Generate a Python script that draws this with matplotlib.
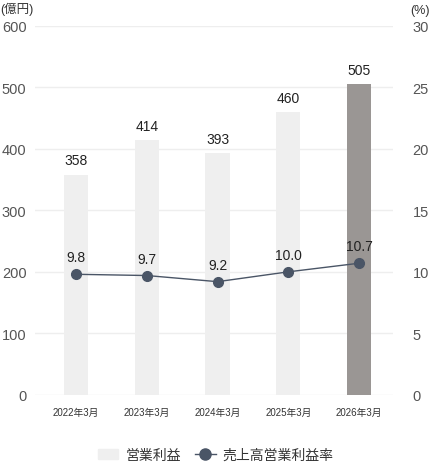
import matplotlib.pyplot as plt
import numpy as np

plt.rcParams["font.family"] = ["Liberation Sans", "Noto Sans CJK JP", "DejaVu Sans"]

years = ["2022年3月", "2023年3月", "2024年3月", "2025年3月", "2026年3月"]
profit = [358, 414, 393, 460, 505]
margin = [9.8, 9.7, 9.2, 10.0, 10.7]
left_ticks = [0, 100, 200, 300, 400, 500, 600]
right_ticks = [0, 5, 10, 15, 20, 25, 30]

TEXT = "#222222"
TICK = "#555555"
BAR = "#efefef"
BAR_LAST = "#9a9694"
LINE = "#4a5566"

fig = plt.figure(figsize=(4.31, 4.64), dpi=100)
ax = fig.add_axes([0.081, 0.147, 0.831, 0.795])
ax2 = ax.twinx()

x = np.arange(len(years))
colors = [BAR] * (len(years) - 1) + [BAR_LAST]
ax.bar(x, profit, width=0.34, color=colors, zorder=2)
for xi, v in zip(x, profit):
    ax.text(xi, v + 12, str(v), ha="center", va="bottom", fontsize=10, color=TEXT)

ax.set_xlim(-0.58, 4.48)
ax.set_ylim(0, 600)
ax.set_yticks(left_ticks)
ax.yaxis.grid(True, color="#eeeeee", linewidth=1, zorder=0)
ax.set_axisbelow(True)
for s in ax.spines.values():
    s.set_visible(False)
ax.tick_params(axis="y", length=0, pad=6, labelsize=10.5, labelcolor=TICK)
ax.set_xticks(x)
ax.set_xticklabels(years)
ax.tick_params(axis="x", length=0, pad=9, labelsize=7, labelcolor="#333333")

ax2.plot(x, margin, color=LINE, linewidth=1, marker="o", markersize=7,
         markerfacecolor=LINE, markeredgecolor=LINE, zorder=3)
for xi, v in zip(x, margin):
    ax2.text(xi, v + 0.8, f"{v:.1f}", ha="center", va="bottom", fontsize=10, color=TEXT)
ax2.set_ylim(0, 30)
ax2.set_yticks(right_ticks)
for s in ax2.spines.values():
    s.set_visible(False)
ax2.tick_params(axis="y", length=0, pad=14, labelsize=10.5, labelcolor=TICK)

fig.text(0.0, 0.995, "(億円)", ha="left", va="top", fontsize=9, color="#333333")
fig.text(0.998, 0.99, "(%)", ha="right", va="top", fontsize=9, color="#333333")

# legend
h1 = plt.Rectangle((0, 0), 1, 1, color=BAR)
h2 = plt.Line2D([], [], color=LINE, marker="o", markersize=8, linewidth=1)
fig.legend([h1, h2], ["営業利益", "売上高営業利益率"], loc="center",
           bbox_to_anchor=(0.5, 0.018), ncol=2, frameon=False, fontsize=10,
           handlelength=1.5, columnspacing=1.0, handletextpad=0.5,
           labelcolor="#333333")

fig.savefig("out.png", dpi=100)
